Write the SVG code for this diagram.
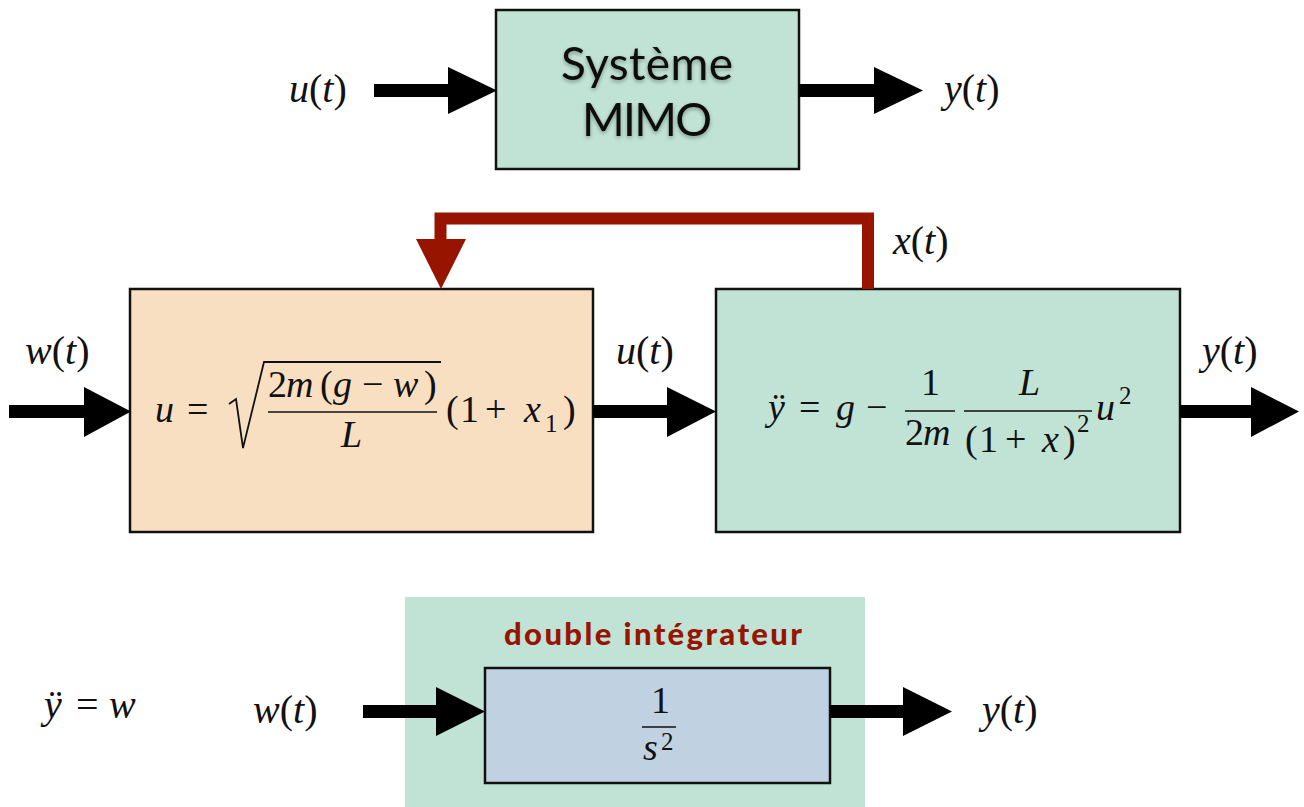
<svg xmlns="http://www.w3.org/2000/svg" width="1304" height="807" viewBox="0 0 1304 807">
<style>
.box{stroke:#111;stroke-width:2.5}
.green{fill:#c1e3d5}
.peach{fill:#f9dfc2}
.blue{fill:#c0d2e1}
.m{font-family:"Liberation Serif","DejaVu Serif",serif;font-size:38px;fill:#111}
.l{font-size:40px}
.i{font-style:italic}
.sup{font-size:25px}
.frac{stroke:#111;stroke-width:1.6}
.arrow{fill:#000}
.title{font-family:Lato,"Open Sans",sans-serif;font-size:46px;fill:#111}
.lab{font-family:Lato,"Open Sans",sans-serif;font-size:31px;font-weight:900;fill:#961400}
</style>
<defs>
<filter id="glow" x="-20%" y="-30%" width="140%" height="160%">
<feGaussianBlur in="SourceAlpha" stdDeviation="2.2"/>
<feOffset dy="1.5"/>
<feComponentTransfer><feFuncA type="linear" slope="0.35"/></feComponentTransfer>
<feMerge><feMergeNode/><feMergeNode in="SourceGraphic"/></feMerge>
</filter>
</defs>

<!-- Top system -->
<g id="mimo">
<rect class="box green" x="496" y="10" width="303" height="159"/>
<text class="title" x="647" y="80" text-anchor="middle" filter="url(#glow)" textLength="172">Système</text>
<text class="title" x="647" y="136" text-anchor="middle" filter="url(#glow)" textLength="130">MIMO</text>
</g>
<g id="lbl-u-top"><text class="m l" x="289" y="102"><tspan class="i">u</tspan>(<tspan class="i">t</tspan>)</text></g>
<g id="lbl-y-top"><text class="m l" x="944" y="102"><tspan class="i">y</tspan>(<tspan class="i">t</tspan>)</text></g>

<!-- Middle: controller block -->
<g id="controller">
<rect class="box peach" x="130" y="289" width="463" height="243"/>
<text class="m" y="422"><tspan class="i" x="155">u</tspan><tspan x="187">=</tspan></text>
<path d="M229,404 L236,399 L243,448 L264,362 L441,362" fill="none" stroke="#111" stroke-width="1.8" stroke-linejoin="miter"/>
<text class="m" y="397"><tspan x="268">2</tspan><tspan class="i" x="286">m</tspan><tspan x="320">(</tspan><tspan class="i" x="333">g</tspan><tspan x="362">−</tspan><tspan class="i" x="393">w</tspan><tspan x="424">)</tspan></text>
<line class="frac" x1="268" y1="412" x2="437" y2="412"/>
<text class="m i" x="341" y="447">L</text>
<text class="m" y="422"><tspan x="446">(</tspan><tspan x="460">1</tspan><tspan x="485">+</tspan><tspan class="i" x="524">x</tspan><tspan x="563">)</tspan></text>
<text class="m sup" x="545" y="432">1</text>
</g>

<!-- Middle: plant block -->
<g id="plant">
<rect class="box green" x="716" y="289" width="464" height="243"/>
<text class="m" y="420"><tspan class="i" x="768">ÿ</tspan><tspan x="799">=</tspan><tspan class="i" x="836">g</tspan><tspan x="866">−</tspan></text>
<text class="m" x="921" y="395">1</text>
<line class="frac" x1="905" y1="411" x2="955" y2="411"/>
<text class="m" y="445"><tspan x="905">2</tspan><tspan class="i" x="923">m</tspan></text>
<text class="m i" x="1019" y="395">L</text>
<line class="frac" x1="964" y1="411" x2="1092" y2="411"/>
<text class="m" y="452"><tspan x="965">(</tspan><tspan x="979">1</tspan><tspan x="1005">+</tspan><tspan class="i" x="1042">x</tspan><tspan x="1063">)</tspan></text>
<text class="m sup" x="1077" y="432">2</text>
<text class="m i" x="1096" y="420">u</text>
<text class="m sup" x="1119" y="404">2</text>
</g>

<g id="lbl-w-mid"><text class="m l" x="25" y="364"><tspan class="i">w</tspan>(<tspan class="i">t</tspan>)</text></g>
<g id="lbl-u-mid"><text class="m l" x="616" y="364"><tspan class="i">u</tspan>(<tspan class="i">t</tspan>)</text></g>
<g id="lbl-y-mid"><text class="m l" x="1202" y="364"><tspan class="i">y</tspan>(<tspan class="i">t</tspan>)</text></g>
<g id="lbl-x"><text class="m l" x="893" y="254"><tspan class="i">x</tspan>(<tspan class="i">t</tspan>)</text></g>

<!-- Bottom: double integrator -->
<g id="double-integrateur">
<rect class="green" x="405" y="597" width="460" height="210"/>
<text class="lab" x="653" y="645" text-anchor="middle" textLength="298">double intégrateur</text>
<rect class="box blue" x="485" y="668" width="345" height="115"/>
<text class="m" x="651" y="713">1</text>
<line class="frac" x1="642" y1="727" x2="676" y2="727"/>
<text class="m i" x="643" y="760">s</text>
<text class="m sup" x="661" y="750">2</text>
</g>
<g id="eq-bottom"><text class="m l" y="718"><tspan class="i" x="44">ÿ</tspan><tspan x="76">=</tspan><tspan class="i" x="109">w</tspan></text></g>
<g id="lbl-w-bot"><text class="m l" x="253" y="723"><tspan class="i">w</tspan>(<tspan class="i">t</tspan>)</text></g>
<g id="lbl-y-bot"><text class="m l" x="982" y="723"><tspan class="i">y</tspan>(<tspan class="i">t</tspan>)</text></g>

<!-- Connectors -->
<g id="connectors">
<polygon class="arrow" points="374,84 448,84 448,67 497,90.5 448,114 448,97 374,97"/>
<polygon class="arrow" points="799,84 874,84 874,67 923,90.5 874,114 874,97 799,97"/>
<polygon class="arrow" points="9,405 84,405 84,387 131,411.5 84,437 84,418 9,418"/>
<polygon class="arrow" points="593,405 667,405 667,387 716,411.5 667,437 667,418 593,418"/>
<polygon class="arrow" points="1180,405 1251,405 1251,387 1299,411.5 1251,437 1251,418 1180,418"/>
<polygon class="arrow" points="363,705 436,705 436,687 485,711.5 436,736 436,718 363,718"/>
<polygon class="arrow" points="830,705 903,705 903,687 952,711.5 903,736 903,718 830,718"/>
<path d="M868,289 L868,218.5 L440.5,218.5 L440.5,241" fill="none" stroke="#961400" stroke-width="12"/>
<polygon points="416,239 466,239 441,289" fill="#961400"/>
</g>
</svg>
